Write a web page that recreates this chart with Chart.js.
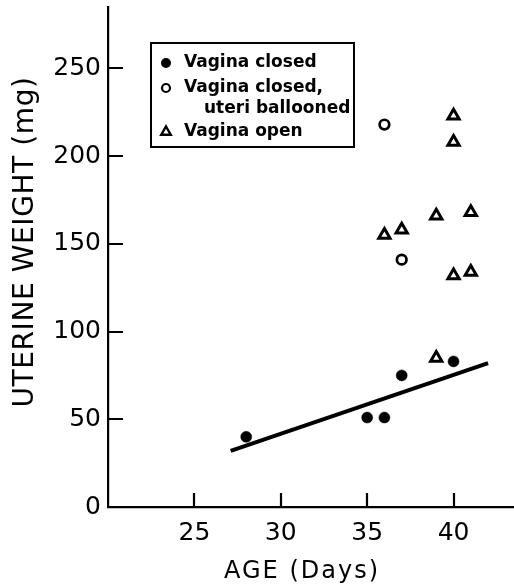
<!DOCTYPE html>
<html>
<head>
<meta charset="utf-8">
<script src="https://cdn.jsdelivr.net/npm/chart.js@4.4.0/dist/chart.umd.min.js"></script>
<style>
  html, body { margin: 0; padding: 0; background: #fff; }
  canvas { display: block; }
</style>
</head>
<body>
<canvas id="weightChart" width="514" height="588"></canvas>
<script>
// values
const closedAge = [28, 35, 36, 37, 40];
const closedWeight = [40, 51, 51, 75, 83];
const balloonAge = [36, 37];
const balloonWeight = [218, 141];
const openAge = [36, 37, 39, 39, 40, 40, 40, 41, 41];
const openWeight = [155, 158, 166, 85, 223, 208, 132, 168, 134];
const fitAge = [27.1, 42];
const fitWeight = [32, 82];
const xTicks = [25, 30, 35, 40];
const yTicks = [0, 50, 100, 150, 200, 250];
const legendLabels = ['Vagina closed', ['Vagina closed,', 'uteri ballooned'], 'Vagina open'];

const toPoints = (xs, ys) => xs.map((x, i) => ({ x: x, y: ys[i] }));

// inward tick marks, axis titles and the boxed key
const decorations = {
  id: 'decorations',
  afterDraw(chart) {
    const ctx = chart.ctx;
    const xs = chart.scales.x, ys = chart.scales.y;
    const area = chart.chartArea;
    ctx.save();
    ctx.strokeStyle = '#000';
    ctx.lineWidth = 2.2;
    ctx.beginPath();
    yTicks.forEach(v => {
      if (v === 0) return;
      const py = Math.round(ys.getPixelForValue(v));
      ctx.moveTo(area.left, py);
      ctx.lineTo(area.left + 15, py);
    });
    xTicks.forEach(v => {
      const px = Math.round(xs.getPixelForValue(v));
      ctx.moveTo(px, area.bottom);
      ctx.lineTo(px, area.bottom - 14);
    });
    ctx.stroke();

    // axis titles
    ctx.fillStyle = '#000';
    ctx.font = '24px "DejaVu Sans"';
    ctx.letterSpacing = '2px';
    ctx.textAlign = 'center';
    ctx.textBaseline = 'middle';
    ctx.fillText('AGE (Days)', 302, 572);
    ctx.save();
    ctx.translate(26, 242);
    ctx.rotate(-Math.PI / 2);
    ctx.font = '28px "DejaVu Sans"';
    ctx.letterSpacing = '0.6px';
    ctx.fillText('UTERINE WEIGHT (mg)', 0, 0);
    ctx.restore();
    ctx.letterSpacing = '0px';

    // key
    ctx.lineWidth = 2;
    ctx.strokeRect(151, 43, 203, 104);
    ctx.font = 'bold 17px "DejaVu Sans"';
    ctx.textAlign = 'left';
    const rows = [63, 88, 132];
    const marks = [
      { pointStyle: 'circle', radius: 5, borderWidth: 0 },
      { pointStyle: 'circle', radius: 4, borderWidth: 2.2 },
      { pointStyle: 'triangle', radius: 5.5, borderWidth: 2.4 }
    ];
    chart.data.datasets.slice(0, 3).forEach((ds, i) => {
      ctx.fillStyle = ds.pointBackgroundColor;
      ctx.strokeStyle = '#000';
      ctx.lineWidth = marks[i].borderWidth;
      Chart.helpers.drawPoint(ctx, marks[i], 166, rows[i]);
      ctx.fillStyle = '#000';
      const label = legendLabels[i];
      if (Array.isArray(label)) {
        ctx.fillText(label[0], 184, rows[i]);
        ctx.fillText(label[1], 204, rows[i] + 21);
      } else {
        ctx.fillText(label, 184, rows[i]);
      }
    });
    ctx.restore();
  }
};

const chartConfig = {
  type: 'scatter',
  data: {
    datasets: [
      {
        label: 'Vagina closed',
        data: toPoints(closedAge, closedWeight),
        pointStyle: 'circle',
        pointRadius: 5.5,
        pointBackgroundColor: '#000',
        pointBorderColor: '#000',
        pointBorderWidth: 0.5
      },
      {
        label: 'Vagina closed, uteri ballooned',
        data: toPoints(balloonAge, balloonWeight),
        pointStyle: 'circle',
        pointRadius: 4.8,
        pointBackgroundColor: '#fff',
        pointBorderColor: '#000',
        pointBorderWidth: 2.7
      },
      {
        label: 'Vagina open',
        data: toPoints(openAge, openWeight),
        pointStyle: 'triangle',
        pointRadius: 6.5,
        pointBackgroundColor: '#fff',
        pointBorderColor: '#000',
        pointBorderWidth: 3
      },
      {
        type: 'line',
        label: 'fit',
        data: toPoints(fitAge, fitWeight),
        borderColor: '#000',
        borderWidth: 4,
        pointRadius: 0,
        fill: false
      }
    ]
  },
  options: {
    responsive: false,
    animation: false,
    layout: { autoPadding: false, padding: { top: 7, right: 0, left: 0, bottom: 0 } },
    plugins: {
      legend: { display: false },
      tooltip: { enabled: false }
    },
    scales: {
      x: {
        type: 'linear',
        min: 20,
        max: 43.5,
        afterBuildTicks: s => { s.ticks = xTicks.map(v => ({ value: v })); },
        afterFit: s => { s.height = 81; s.paddingLeft = 0; s.paddingRight = 0; },
        grid: { display: false, drawTicks: false },
        border: { display: true, color: '#000', width: 2.2 },
        ticks: {
          color: '#000',
          padding: 11,
          font: { family: 'DejaVu Sans', size: 25 },
          maxRotation: 0
        }
      },
      y: {
        type: 'linear',
        min: 0,
        max: 285,
        afterBuildTicks: s => { s.ticks = yTicks.map(v => ({ value: v })); },
        afterFit: s => { s.width = 108; s.paddingTop = 0; s.paddingBottom = 0; },
        grid: { display: false, drawTicks: false },
        border: { display: true, color: '#000', width: 2.2 },
        ticks: {
          color: '#000',
          padding: 7,
          font: { family: 'DejaVu Sans', size: 25 }
        }
      }
    }
  },
  plugins: [decorations]
};

new Chart(document.getElementById('weightChart').getContext('2d'), chartConfig);
</script>
</body>
</html>
